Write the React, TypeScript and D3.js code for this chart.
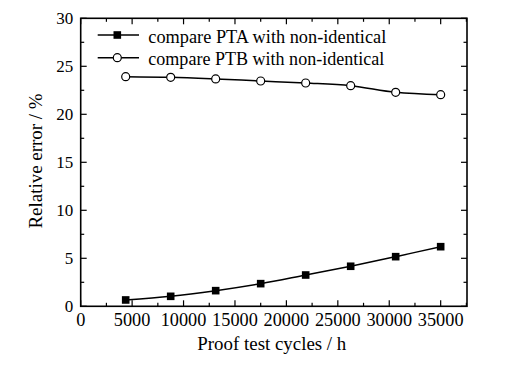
import React from "react";
import * as d3 from "d3";

const xValues = [4375, 8750, 13125, 17500, 21875, 26250, 30625, 35000];
const ptaValues = [0.66, 1.04, 1.63, 2.36, 3.26, 4.17, 5.17, 6.21];
const ptbValues = [23.92, 23.85, 23.68, 23.47, 23.26, 22.98, 22.29, 22.04];
const xTicks = [0, 5000, 10000, 15000, 20000, 25000, 30000, 35000];
const yTicks = [0, 5, 10, 15, 20, 25, 30];
const seriesNames = ["compare PTA with non-identical", "compare PTB with non-identical"];

const W = 516, H = 371;
const L = 80.7, R = 467, T = 18.3, B = 306.3;
const FONT = "'Liberation Serif', 'Times New Roman', serif";

export default function App() {
  const x = d3.scaleLinear().domain([0, 37560]).range([L, R]);
  const y = d3.scaleLinear().domain([0, 30]).range([B, T]);
  const line = d3.line<number>().curve(d3.curveCatmullRom.alpha(0.5));
  const ptaPath = line(xValues.map((v, i) => [x(v), y(ptaValues[i])]) as any);
  const ptbPath = line(xValues.map((v, i) => [x(v), y(ptbValues[i])]) as any);
  const xMinor = d3.range(0, 37501, 2500);
  const yMinor = d3.range(0, 30.01, 2.5);
  const major = 6, minor = 3.5;
  return (
    <svg width={W} height={H} style={{ position: "absolute", left: 0, top: 0, background: "#fff" }}>
      <rect x={0} y={0} width={W} height={H} fill="#fff" />
      <g stroke="#000" strokeWidth={1.2}>
        {xMinor.map((v, i) => {
          const len = v % 5000 === 0 ? major : minor;
          return (
            <g key={"xt" + i}>
              <line x1={x(v)} x2={x(v)} y1={B} y2={B - len} />
              <line x1={x(v)} x2={x(v)} y1={T} y2={T + len} />
            </g>
          );
        })}
        {yMinor.map((v, i) => {
          const len = Math.abs(v % 5) < 1e-6 ? major : minor;
          return (
            <g key={"yt" + i}>
              <line x1={L} x2={L + len} y1={y(v)} y2={y(v)} />
              <line x1={R} x2={R - len} y1={y(v)} y2={y(v)} />
            </g>
          );
        })}
      </g>
      <rect x={L} y={T} width={R - L} height={B - T} fill="none" stroke="#000" strokeWidth={1.6} />
      <g fontFamily={FONT} fill="#000">
        {xTicks.map((v) => (
          <text key={"xl" + v} x={x(v)} y={326} textAnchor="middle" fontSize={18.3}>{v}</text>
        ))}
        {yTicks.map((v) => (
          <text key={"yl" + v} x={L - 7.5} y={y(v) + 6} textAnchor="end" fontSize={17}>{v}</text>
        ))}
      </g>
      <text x={197.3} y={349.5} textLength={149} lengthAdjust="spacingAndGlyphs" fontFamily={FONT} fontSize={19.5} fill="#000">
        Proof test cycles / h
      </text>
      <text transform={`translate(41.5,161) rotate(-90)`} textAnchor="middle" textLength={135} lengthAdjust="spacingAndGlyphs" fontFamily={FONT} fontSize={19.5} fill="#000">
        Relative error / %
      </text>
      <path d={ptaPath || ""} fill="none" stroke="#000" strokeWidth={1.5} />
      <path d={ptbPath || ""} fill="none" stroke="#000" strokeWidth={1.5} />
      {xValues.map((v, i) => (
        <rect key={"a" + i} x={x(v) - 3.8} y={y(ptaValues[i]) - 3.8} width={7.6} height={7.6} fill="#000" />
      ))}
      {xValues.map((v, i) => (
        <circle key={"b" + i} cx={x(v)} cy={y(ptbValues[i])} r={4} fill="#fff" stroke="#000" strokeWidth={1.2} />
      ))}
      <g>
        <line x1={97.7} x2={139} y1={35} y2={35} stroke="#000" strokeWidth={1.5} />
        <rect x={117.3 - 3.8} y={35 - 3.8} width={7.6} height={7.6} fill="#000" />
        <text x={148.3} y={43.3} textLength={238} lengthAdjust="spacingAndGlyphs" fontFamily={FONT} fontSize={18.5} fill="#000">{seriesNames[0]}</text>
        <line x1={97.7} x2={139} y1={57.7} y2={57.7} stroke="#000" strokeWidth={1.5} />
        <circle cx={117.3} cy={57.7} r={4} fill="#fff" stroke="#000" strokeWidth={1.2} />
        <text x={148.3} y={65} textLength={236} lengthAdjust="spacingAndGlyphs" fontFamily={FONT} fontSize={18.5} fill="#000">{seriesNames[1]}</text>
      </g>
    </svg>
  );
}
